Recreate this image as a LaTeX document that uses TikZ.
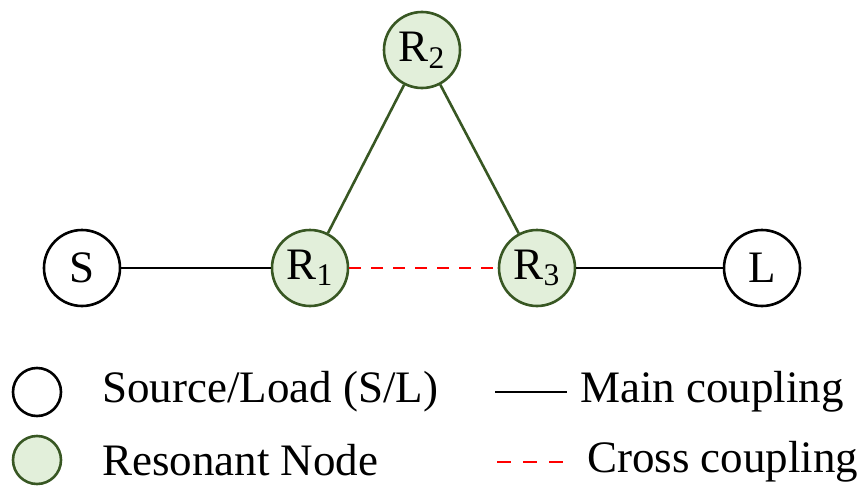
\documentclass[tikz,border=0pt]{standalone}
\usepackage{fontspec}
\setmainfont{Liberation Serif}
\definecolor{resfill}{HTML}{E2EFDA}
\definecolor{resline}{HTML}{385723}
\tikzset{
	port/.style={circle, draw=black, line width=1.3pt, minimum size=38pt, inner sep=0pt, fill=white},
	resonator/.style={circle, draw=resline, fill=resfill, line width=1.3pt, minimum size=38pt, inner sep=0pt},
	maincpl/.style={draw=black, line width=1.3pt},
	rescpl/.style={draw=resline, line width=1.3pt},
	crosscpl/.style={draw=red, line width=1.4pt, dash pattern=on 6pt off 5pt}
}
\begin{document}
\begin{tikzpicture}[x=0.5pt, y=-0.5pt, font=\fontsize{22.5}{27}\selectfont]
		\useasboundingbox (0,0) rectangle (867,487);
		% filter topology
		\node[port] (S) at (82,268) {S};
		\node[resonator] (R1) at (310,268) {R\textsubscript{1}};
		\node[resonator] (R2) at (422,50) {R\textsubscript{2}};
		\node[resonator] (R3) at (537,268) {R\textsubscript{3}};
		\node[port] (L) at (762,268) {L};
		\draw[maincpl] (S) -- (R1);
		\draw[maincpl] (R3) -- (L);
		\draw[rescpl] (R1) -- (R2);
		\draw[rescpl] (R2) -- (R3);
		\draw[crosscpl] (R1) -- (R3);
		% legend
		\node[port, minimum size=24pt] (symS) at (37,392) {};
		\node[resonator, minimum size=24pt] (symR) at (37,460) {};
		\node[anchor=west] (txtS) at (95,392) {Source/Load (S/L)};
		\node[anchor=west] (txtR) at (95,460) {Resonant Node};
		\coordinate (mainA) at (495,392);
		\coordinate (mainB) at (567,392);
		\coordinate (crossA) at (497,462);
		\coordinate (crossB) at (572,462);
		\draw[maincpl] (mainA) -- (mainB);
		\draw[crosscpl, dash pattern=on 7pt off 6pt] (crossA) -- (crossB);
		\node[anchor=west] (txtM) at (573,392) {Main coupling};
		\node[anchor=west] (txtC) at (580,462) {Cross coupling};
	\end{tikzpicture}
\end{document}
